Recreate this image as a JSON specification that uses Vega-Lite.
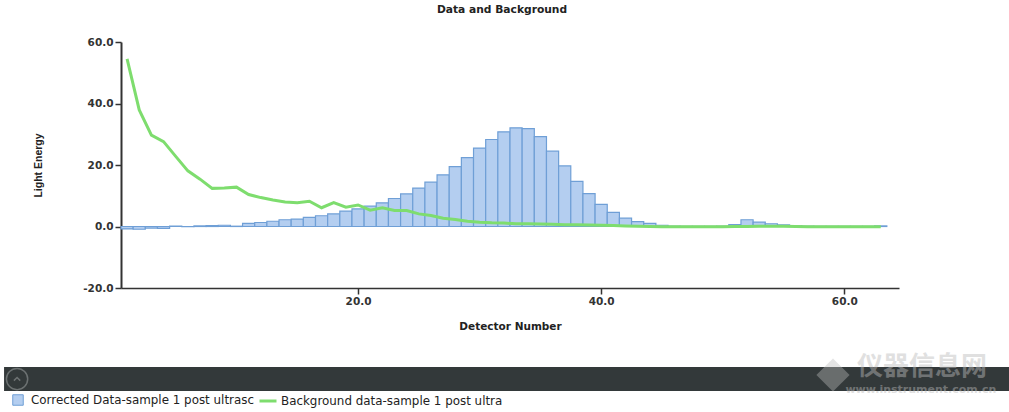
{"$schema":"https://vega.github.io/schema/vega-lite/v6.json","width":778,"height":246,"autosize":{"type":"none"},"padding":{"left":121,"top":42,"right":110,"bottom":124},"background":"white","title":{"text":"Data and Background","font":"DejaVu Sans","fontSize":10.7,"fontWeight":"bold","color":"#222","dx":-8,"offset":21},"config":{"view":{"stroke":null}},"datasets":{"corrected":[{"d":1,"v":-0.8},{"d":2,"v":-0.9},{"d":3,"v":-0.5},{"d":4,"v":-0.6},{"d":5,"v":0.1},{"d":6,"v":-0.05},{"d":7,"v":0.2},{"d":8,"v":0.3},{"d":9,"v":0.4},{"d":10,"v":0.1},{"d":11,"v":1.0},{"d":12,"v":1.3},{"d":13,"v":1.7},{"d":14,"v":2.2},{"d":15,"v":2.4},{"d":16,"v":3.0},{"d":17,"v":3.5},{"d":18,"v":4.1},{"d":19,"v":5.0},{"d":20,"v":5.7},{"d":21,"v":6.6},{"d":22,"v":7.7},{"d":23,"v":9.1},{"d":24,"v":10.6},{"d":25,"v":12.5},{"d":26,"v":14.4},{"d":27,"v":16.8},{"d":28,"v":19.5},{"d":29,"v":22.4},{"d":30,"v":25.5},{"d":31,"v":28.3},{"d":32,"v":30.8},{"d":33,"v":32.1},{"d":34,"v":31.8},{"d":35,"v":29.2},{"d":36,"v":24.5},{"d":37,"v":19.7},{"d":38,"v":14.7},{"d":39,"v":10.7},{"d":40,"v":7.2},{"d":41,"v":4.6},{"d":42,"v":2.7},{"d":43,"v":1.6},{"d":44,"v":1.0},{"d":45,"v":0.4},{"d":46,"v":0.1},{"d":47,"v":0.05},{"d":48,"v":0.05},{"d":49,"v":0.05},{"d":50,"v":0.1},{"d":51,"v":0.6},{"d":52,"v":2.2},{"d":53,"v":1.4},{"d":54,"v":0.9},{"d":55,"v":0.5},{"d":56,"v":0.2},{"d":57,"v":0.1},{"d":58,"v":0.05},{"d":59,"v":0.05},{"d":60,"v":0.05},{"d":61,"v":0.05},{"d":62,"v":0.05},{"d":63,"v":0.2}],"background":[{"d":1,"v":54.5},{"d":2,"v":37.9},{"d":3,"v":29.7},{"d":4,"v":27.6},{"d":5,"v":22.8},{"d":6,"v":18.1},{"d":7,"v":15.4},{"d":8,"v":12.4},{"d":9,"v":12.5},{"d":10,"v":12.8},{"d":11,"v":10.4},{"d":12,"v":9.4},{"d":13,"v":8.6},{"d":14,"v":8.0},{"d":15,"v":7.7},{"d":16,"v":8.2},{"d":17,"v":6.1},{"d":18,"v":7.8},{"d":19,"v":6.3},{"d":20,"v":7.0},{"d":21,"v":5.3},{"d":22,"v":6.1},{"d":23,"v":5.2},{"d":24,"v":5.2},{"d":25,"v":4.1},{"d":26,"v":3.6},{"d":27,"v":2.7},{"d":28,"v":2.3},{"d":29,"v":1.7},{"d":30,"v":1.4},{"d":31,"v":1.2},{"d":32,"v":1.1},{"d":33,"v":0.9},{"d":34,"v":0.9},{"d":35,"v":0.8},{"d":36,"v":0.7},{"d":37,"v":0.6},{"d":38,"v":0.6},{"d":39,"v":0.5},{"d":40,"v":0.4},{"d":41,"v":0.3},{"d":42,"v":0.2},{"d":43,"v":0.1},{"d":44,"v":0.0},{"d":45,"v":-0.1},{"d":46,"v":-0.1},{"d":47,"v":-0.1},{"d":48,"v":-0.1},{"d":49,"v":-0.1},{"d":50,"v":-0.1},{"d":51,"v":0.0},{"d":52,"v":0.0},{"d":53,"v":0.1},{"d":54,"v":0.1},{"d":55,"v":0.1},{"d":56,"v":0.0},{"d":57,"v":-0.1},{"d":58,"v":-0.1},{"d":59,"v":-0.1},{"d":60,"v":-0.1},{"d":61,"v":-0.1},{"d":62,"v":-0.1},{"d":63,"v":-0.1}]},"layer":[{"data":{"name":"corrected"},"transform":[{"calculate":"'Corrected Data-sample 1 post ultrasc'","as":"series"}],"mark":{"type":"bar","size":12.156,"stroke":"#6f9fd6","strokeWidth":1.2},"encoding":{"x":{"field":"d","type":"quantitative","scale":{"domain":[0.5,64.5],"nice":false,"zero":false,"padding":0},"axis":{"title":"Detector Number","titleFont":"DejaVu Sans","titleFontSize":10.5,"titleFontWeight":"bold","titleColor":"#222","titlePadding":15,"values":[20,40,60],"format":".1f","labelFont":"DejaVu Sans","labelFontSize":10.5,"labelFontWeight":"bold","labelColor":"#333","grid":false,"domainColor":"#333","domainWidth":1.5,"tickColor":"#333","tickSize":6,"tickWidth":1.5}},"y":{"field":"v","type":"quantitative","scale":{"domain":[-20,60],"nice":false},"axis":{"title":"Light Energy","titleFont":"Liberation Sans","titleFontSize":10.5,"titleFontWeight":"bold","titleColor":"#222","titlePadding":39,"values":[-20,0,20,40,60],"format":".1f","labelExpr":"replace(datum.label,'−','-')","labelFont":"DejaVu Sans","labelFontSize":10.5,"labelFontWeight":"bold","labelColor":"#333","grid":false,"domainColor":"#333","domainWidth":2,"tickColor":"#333","tickSize":6,"tickWidth":1.5}},"fill":{"field":"series","type":"nominal","scale":{"range":["#b4cef0"]},"legend":{"title":null,"orient":"none","legendX":-109,"legendY":352,"symbolType":"square","symbolSize":110,"symbolStrokeColor":"#6f9fd6","symbolStrokeWidth":1,"labelFont":"DejaVu Sans","labelFontSize":11.9,"labelColor":"#222","labelLimit":300,"labelOffset":7}}}},{"data":{"name":"background"},"transform":[{"calculate":"'Background data-sample 1 post ultra'","as":"series"}],"mark":{"type":"line","strokeWidth":3,"interpolate":"linear"},"encoding":{"x":{"field":"d","type":"quantitative"},"y":{"field":"v","type":"quantitative"},"stroke":{"field":"series","type":"nominal","scale":{"range":["#7edd6e"]},"legend":{"title":null,"orient":"none","legendX":137,"legendY":349,"symbolType":"stroke","symbolSize":289,"symbolStrokeWidth":3,"labelFont":"DejaVu Sans","labelFontSize":11.9,"labelColor":"#222","labelLimit":300,"labelOffset":3}}}},{"data":{"values":[{}]},"mark":{"type":"rect","fill":"#33393a","clip":false},"encoding":{"x":{"datum":-9.12},"x2":{"datum":73.6},"y":{"datum":-45.7},"y2":{"datum":-53.5}}},{"data":{"values":[{}]},"mark":{"type":"point","shape":"circle","filled":false,"stroke":"#858a8a","strokeWidth":1.5,"size":452,"clip":false},"encoding":{"x":{"datum":-8.05},"y":{"datum":-49.6}}},{"data":{"values":[{}]},"mark":{"type":"point","shape":"M-1,0.5L0,-0.5L1,0.5","filled":false,"stroke":"#858a8a","strokeWidth":1.5,"size":40,"clip":false},"encoding":{"x":{"datum":-8.05},"y":{"datum":-49.6}}},{"data":{"values":[{}]},"mark":{"type":"point","shape":"diamond","filled":true,"fill":"#bbbbbb","opacity":0.4,"size":1100,"clip":false},"encoding":{"x":{"datum":59.07},"y":{"datum":-48.3}}},{"data":{"values":[{"t":"仪器信息网"}]},"mark":{"type":"text","font":"Noto Sans CJK SC","fontSize":26,"fontWeight":"bold","color":"#bbbbbb","opacity":0.45,"align":"center","baseline":"middle"},"encoding":{"text":{"field":"t"},"x":{"datum":66.39},"y":{"datum":-45.8}}},{"data":{"values":[{"t":"www.instrument.com.cn"}]},"mark":{"type":"text","font":"DejaVu Sans","fontSize":11,"fontWeight":"bold","color":"#bbbbbb","opacity":0.45,"align":"center","baseline":"middle"},"encoding":{"text":{"field":"t"},"x":{"datum":66.3},"y":{"datum":-53.2}}}]}
